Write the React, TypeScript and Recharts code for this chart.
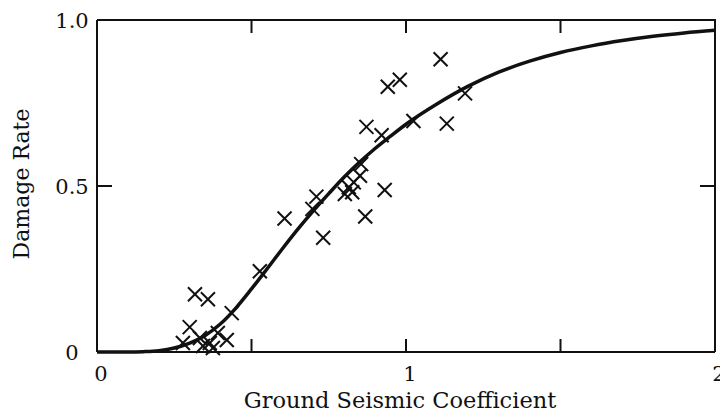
import { ComposedChart, Line, Scatter, XAxis, YAxis } from 'recharts'

// fitted curve
const curveX = [0, 0.1, 0.15, 0.2, 0.25, 0.3, 0.35, 0.4, 0.45, 0.5, 0.55, 0.6, 0.65, 0.7, 0.75, 0.8, 0.85, 0.9, 0.95, 1.0, 1.1, 1.2, 1.3, 1.4, 1.5, 1.6, 1.7, 1.8, 1.9, 2.0]
const curveY = [0, 0, 0.001, 0.004, 0.012, 0.027, 0.05, 0.085, 0.133, 0.19, 0.25, 0.311, 0.37, 0.425, 0.477, 0.527, 0.572, 0.613, 0.65, 0.686, 0.747, 0.8, 0.843, 0.876, 0.902, 0.922, 0.938, 0.951, 0.961, 0.969]

// observed damage rates
const obsX = [1.112, 0.98, 0.941, 0.872, 0.921, 1.024, 1.132, 1.191, 0.855, 0.851, 0.831, 0.815, 0.802, 0.826, 0.931, 0.868, 0.71, 0.697, 0.607, 0.732, 0.527, 0.317, 0.359, 0.436, 0.3, 0.391, 0.42, 0.333, 0.278, 0.365, 0.343, 0.375]
const obsY = [0.882, 0.82, 0.799, 0.678, 0.653, 0.696, 0.688, 0.779, 0.566, 0.531, 0.511, 0.496, 0.476, 0.481, 0.488, 0.408, 0.468, 0.431, 0.402, 0.344, 0.243, 0.174, 0.159, 0.117, 0.075, 0.057, 0.036, 0.042, 0.027, 0.027, 0.018, 0.012]

const xTicks = [0, 0.5, 1, 1.5, 2]
const xLabeled = [0, 1, 2]
const yTicks = [0, 0.5, 1]
const yTickLabels = ['0', '0.5', '1.0']

const curve = curveX.map((x, i) => ({ x, y: curveY[i] }))
const points = obsX.map((x, i) => ({ x, y: obsY[i] }))

// layout
const W = 720
const H = 417
const M = { top: 20, right: 5, bottom: 0, left: 0 }
const Y_AXIS_W = 97
const X_AXIS_H = 65
const PLOT_W = W - M.left - M.right - Y_AXIS_W
const PLOT_H = H - M.top - M.bottom - X_AXIS_H
const X_TICK_LEN = 13
const Y_TICK_LEN = 15

const font = '"DejaVu Serif", serif'
const ink = '#111'

const Cross = (props: any) => {
  const { cx, cy } = props
  const r = 7
  return (
    <g stroke={ink} strokeWidth={2}>
      <line x1={cx - r} y1={cy - r} x2={cx + r} y2={cy + r} />
      <line x1={cx - r} y1={cy + r} x2={cx + r} y2={cy - r} />
    </g>
  )
}

// tick marks point inward, so recharts puts the label point 11px above the axis;
// the matching top tick (and the top/right sides of the box) are drawn from here too
const XTick = ({ x, y, payload }: any) => {
  const axisY = y + X_TICK_LEN - 2
  const topY = axisY - PLOT_H
  const v = payload.value
  return (
    <g>
      {v > 0 && v < 2 && <line x1={x} y1={topY} x2={x} y2={topY + X_TICK_LEN} stroke={ink} strokeWidth={2} />}
      {v === 2 && (
        <polyline points={`${x},${axisY} ${x},${topY} ${x - PLOT_W},${topY}`} fill="none" stroke={ink} strokeWidth={2} />
      )}
      {xLabeled.includes(v) && (
        <text x={x + 4} y={axisY + 29} textAnchor="middle" fontFamily={font} fontSize={21} fill={ink}>
          {v}
        </text>
      )}
    </g>
  )
}

const YTick = ({ x, y, payload }: any) => {
  const axisX = x - Y_TICK_LEN + 2
  const rightX = axisX + PLOT_W
  const v = payload.value
  return (
    <g>
      {v > 0 && v < 1 && <line x1={rightX} y1={y} x2={rightX - Y_TICK_LEN} y2={y} stroke={ink} strokeWidth={2} />}
      <text x={axisX - 25} y={y + 8} textAnchor="middle" fontFamily={font} fontSize={21} fill={ink}>
        {yTickLabels[yTicks.indexOf(v)]}
      </text>
    </g>
  )
}

const axisLine = { stroke: ink, strokeWidth: 2 }
const inTick = { stroke: ink, strokeWidth: 2 }

export default function App() {
  return (
    <div style={{ position: 'absolute', left: 0, top: 0, background: '#fff' }}>
      <ComposedChart width={W} height={H} data={curve} margin={M}>
        <XAxis
          dataKey="x"
          type="number"
          domain={[0, 2]}
          ticks={xTicks}
          interval={0}
          height={X_AXIS_H}
          axisLine={axisLine}
          tickLine={inTick}
          tickSize={-X_TICK_LEN}
          tick={<XTick />}
          label={{
            content: ({ viewBox }: any) => (
              <text x={viewBox.x + viewBox.width / 2 - 6} y={viewBox.y + 56} textAnchor="middle" fontFamily={font} fontSize={22.5} fill={ink}>
                Ground Seismic Coefficient
              </text>
            ),
          }}
        />
        <YAxis
          dataKey="y"
          type="number"
          domain={[0, 1]}
          ticks={yTicks}
          interval={0}
          width={Y_AXIS_W}
          axisLine={axisLine}
          tickLine={inTick}
          tickSize={-Y_TICK_LEN}
          tick={<YTick />}
          label={{
            content: ({ viewBox }: any) => {
              const cx = viewBox.x + 29
              const cy = viewBox.y + viewBox.height / 2 - 2
              return (
                <text x={cx} y={cy} transform={`rotate(-90 ${cx} ${cy})`} textAnchor="middle" fontFamily={font} fontSize={22} fill={ink}>
                  Damage Rate
                </text>
              )
            },
          }}
        />
        <Line dataKey="y" type="monotone" stroke={ink} strokeWidth={3.5} dot={false} isAnimationActive={false} />
        <Scatter data={points} dataKey="y" shape={<Cross />} isAnimationActive={false} />
      </ComposedChart>
    </div>
  )
}
